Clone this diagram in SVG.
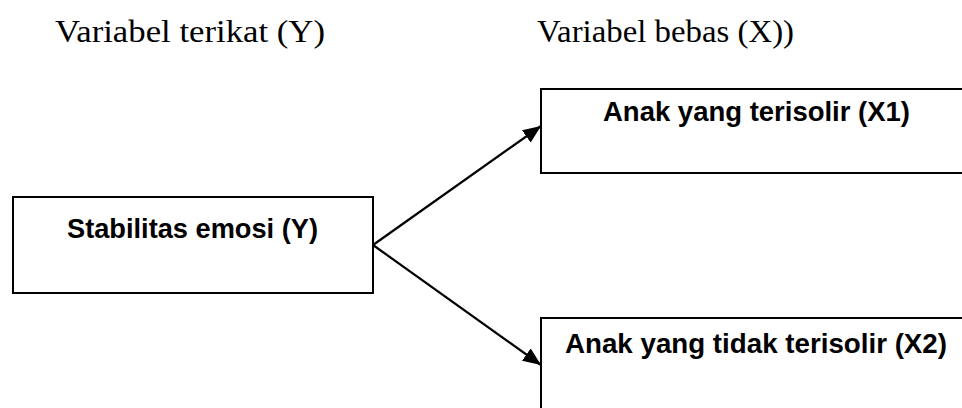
<svg xmlns="http://www.w3.org/2000/svg" width="962" height="408" viewBox="0 0 962 408">
<style>
.box{fill:#fff;stroke:#000;stroke-width:2}
.lbl{font-family:"Liberation Sans",Arial,sans-serif;font-weight:bold;font-size:28.5px;fill:#000}
.hdr{font-family:"Liberation Serif","Times New Roman",serif;font-size:32px;fill:#000}
.con{stroke:#000;stroke-width:2.2;fill:none}
</style>
<defs>
<marker id="arr" markerUnits="userSpaceOnUse" markerWidth="19" markerHeight="15" refX="18" refY="7.5" orient="auto">
<path d="M0,0 L18,7.5 L0,15 Z" fill="#000"/>
</marker>
</defs>
<g id="headers">
<text class="hdr" x="55" y="42" textLength="270" lengthAdjust="spacingAndGlyphs">Variabel terikat (Y)</text>
<text class="hdr" x="537" y="42" textLength="257" lengthAdjust="spacingAndGlyphs">Variabel bebas (X))</text>
</g>
<g id="nodeY">
<rect class="box" x="13" y="197" width="360" height="96"/>
<text class="lbl" x="67" y="238" textLength="251" lengthAdjust="spacingAndGlyphs">Stabilitas emosi (Y)</text>
</g>
<g id="nodeX1">
<rect class="box" x="541" y="89" width="440" height="84"/>
<text class="lbl" x="603" y="121" textLength="307" lengthAdjust="spacingAndGlyphs">Anak yang terisolir (X1)</text>
</g>
<g id="nodeX2">
<rect class="box" x="541" y="318" width="440" height="120"/>
<text class="lbl" x="565" y="353" textLength="382" lengthAdjust="spacingAndGlyphs">Anak yang tidak terisolir (X2)</text>
</g>
<g id="connectors">
<line class="con" x1="373" y1="245" x2="541" y2="126" marker-end="url(#arr)"/>
<line class="con" x1="373" y1="245" x2="541" y2="365" marker-end="url(#arr)"/>
</g>
</svg>
